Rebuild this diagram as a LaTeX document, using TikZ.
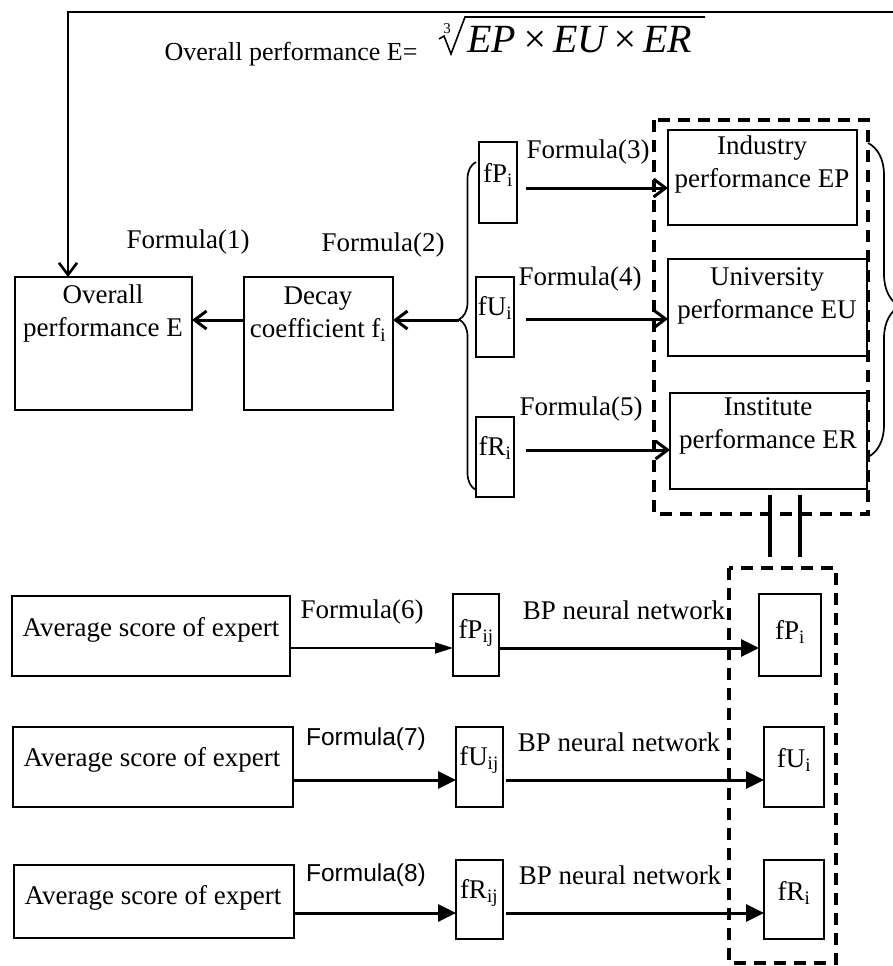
\documentclass[tikz,border=0pt]{standalone}
\usepackage{fontspec}
\setmainfont{Liberation Serif}
\newfontfamily\sansf{Liberation Sans}
\usetikzlibrary{arrows.meta,decorations.pathreplacing,calc}
\newcommand\bigtxt{\fontsize{27}{33}\selectfont}
\tikzset{
 box/.style={draw,line width=2.9pt,inner sep=0pt,outer sep=0pt,anchor=north west},
 lbl/.style={font=\bigtxt,align=center,inner sep=0pt},
 slbl/.style={font=\sansf\fontsize{24.5}{30}\selectfont,inner sep=0pt},
 dashbox/.style={line width=4pt,dash pattern=on 12pt off 8pt},
 barb/.style={line width=3pt,-{Straight Barb[length=12pt,width=18pt]}},
 tri/.style={line width=3pt,-{Triangle[length=18pt,width=17pt]}},
 thinarr/.style={line width=1.2pt,-{Triangle[length=18pt,width=11pt]}},
 brc/.style={line width=1.7pt,decorate,decoration={brace,amplitude=#1,aspect=0.52}},
}
\begin{document}
\begin{tikzpicture}[x=1pt,y=-1pt]
\useasboundingbox (0,0) rectangle (893,966);
\clip (0,0) rectangle (893,966);
\fill[white] (0,0) rectangle (893,966);

% top formula
\node[lbl,font=\fontsize{26}{31}\selectfont] (toptxt) at (291,54) {Overall performance E=};
\node[inner sep=0pt,anchor=west,font=\fontsize{40}{48}\selectfont\itshape] (formula) at (467,40) {EP\hspace{5pt}×\hspace{5pt}EU\hspace{5pt}×\hspace{5pt}ER};
\node[inner sep=0pt,font=\fontsize{15}{17}\selectfont] (root3) at (447,29) {3};
\draw[line width=1.6pt,line join=miter] (439,39) -- (444,36) -- (451,54) -- (465,17) -- (705,17);

% left boxes
\node[box,minimum width=177pt,minimum height=133pt] (ov) at (15,277) {};
\node[lbl] (ovt) at (103,314) {Overall\\performance E};
\node[box,minimum width=149pt,minimum height=133pt] (dc) at (244,277) {};
\node[lbl] (dct) at (318,314) {Decay\\coefficient f\textsubscript{i}};
\node[lbl] (f1) at (188,242) {Formula(1)};
\node[lbl] (f2) at (383,245) {Formula(2)};

% small f boxes
\node[box,minimum width=38pt,minimum height=81pt] (fpa) at (479,142) {};
\node[lbl] (fpat) at (498,175) {fP\textsubscript{i}};
\node[box,minimum width=38pt,minimum height=80pt] (fua) at (476,277) {};
\node[lbl] (fuat) at (495,308) {fU\textsubscript{i}};
\node[box,minimum width=38pt,minimum height=80pt] (fra) at (476,417) {};
\node[lbl] (frat) at (495,448) {fR\textsubscript{i}};

% right performance boxes
\node[box,minimum width=189pt,minimum height=95pt] (ind) at (668,130) {};
\node[lbl] (indt) at (762,165) {Industry\\performance EP};
\node[box,minimum width=199pt,minimum height=97pt] (uni) at (668,259) {};
\node[lbl] (unit) at (767,296) {University\\performance EU};
\node[box,minimum width=197pt,minimum height=96pt] (ins) at (670,393) {};
\node[lbl] (inst) at (768,426) {Institute\\performance ER};

\node[lbl] (f3) at (588,152) {Formula(3)};
\node[lbl] (f4) at (580,279) {Formula(4)};
\node[lbl] (f5) at (581,409) {Formula(5)};

\draw[barb] ([xshift=9pt,yshift=-5.5pt]fpa.east) -- ([yshift=-10.5pt]ind.west);
\draw[barb] ([xshift=12pt,yshift=-2pt]fua.east) -- ([yshift=-11.5pt]uni.west);
\draw[barb] ([xshift=12pt,yshift=7pt]fra.east) -- ([yshift=-9pt]ins.west);

% braces
\draw[brc=17pt] (476,490) -- (476,162);
\coordinate (lb) at (459,320);
\draw[brc=32pt] (868,143) -- (868,457);
\coordinate (rb) at (905,300);
\coordinate (tl) at (68,12);

\draw[barb] (lb) -- (dc.east |- lb);
\draw[barb] (dc.west |- lb) -- (ov.east |- lb);
\draw[barb,line width=2.6pt] (rb) |- (tl) -- (tl |- ov.north);

% dashed groups
\draw[dashbox] (654,120) rectangle (868,514);
\draw[dashbox] (729,568) rectangle (836,963);
\draw[line width=4pt] (770,495) -- (770,557);
\draw[line width=4pt] (800,495) -- (800,557);

% row 1
\node[box,minimum width=278pt,minimum height=80pt] (av1) at (12,596) {};
\node[lbl] (av1t) at (151,630) {Average score of expert};
\node[box,minimum width=46pt,minimum height=82pt] (fpb) at (453,594) {};
\node[lbl] (fpbt) at (476,633) {fP\textsubscript{ij}};
\node[box,minimum width=62pt,minimum height=82pt] (fpc) at (759,594) {};
\node[lbl] (fpct) at (790,632) {fP\textsubscript{i}};
\node[lbl] (f6) at (362,612) {Formula(6)};
\node[lbl] (bp1) at (624,610) {BP neural network};
\draw[thinarr] ([yshift=-12pt]av1.east) -- ([yshift=-13pt]fpb.west);
\draw[tri] ([yshift=-13pt]fpb.east) -- ([yshift=-13pt]fpc.west);

% row 2
\node[box,minimum width=280pt,minimum height=80pt] (av2) at (13,727) {};
\node[lbl] (av2t) at (152,760) {Average score of expert};
\node[box,minimum width=47pt,minimum height=80pt] (fub) at (456,727) {};
\node[lbl] (fubt) at (479,760) {fU\textsubscript{ij}};
\node[box,minimum width=60pt,minimum height=80pt] (fuc) at (764,727) {};
\node[lbl] (fuct) at (794,760) {fU\textsubscript{i}};
\node[slbl] (f7) at (366,739) {Formula(7)};
\node[lbl] (bp2) at (619,742) {BP neural network};
\draw[tri] ([yshift=-13pt]av2.east) -- ([yshift=-13pt]fub.west);
\draw[tri] ([xshift=3pt,yshift=-13pt]fub.east) -- ([yshift=-13pt]fuc.west);

% row 3
\node[box,minimum width=280pt,minimum height=73pt] (av3) at (14,865) {};
\node[lbl] (av3t) at (153,898) {Average score of expert};
\node[box,minimum width=47pt,minimum height=79pt] (frb) at (456,860) {};
\node[lbl] (frbt) at (479,893) {fR\textsubscript{ij}};
\node[box,minimum width=60pt,minimum height=79pt] (frc) at (764,860) {};
\node[lbl] (frct) at (794,893) {fR\textsubscript{i}};
\node[slbl] (f8) at (366,875) {Formula(8)};
\node[lbl] (bp3) at (620,875) {BP neural network};
\draw[tri] ([yshift=-11.5pt]av3.east) -- ([yshift=-13.5pt]frb.west);
\draw[tri] ([xshift=3pt,yshift=-13.5pt]frb.east) -- ([yshift=-13.5pt]frc.west);
\end{tikzpicture}
\end{document}
